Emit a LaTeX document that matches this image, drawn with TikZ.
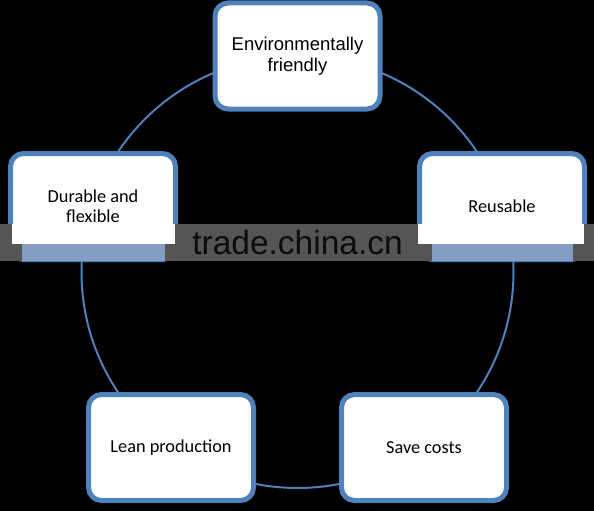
\documentclass[tikz,border=0pt]{standalone}
\usepackage{fontspec}
\setmainfont{Carlito}
\newfontfamily\arialfont{Liberation Sans}
\definecolor{ringblue}{RGB}{79,129,189}
\definecolor{bandgray}{RGB}{85,85,85}
\definecolor{marktext}{RGB}{12,12,12}
\definecolor{glassblue}{RGB}{132,158,195}
\begin{document}
\begin{tikzpicture}[x=1pt,y=-1pt,
  boxnode/.style={draw=ringblue, line width=5pt, fill=white, rounded corners=13pt,
    minimum width=165pt, minimum height=106pt, align=center, font=\fontsize{18.3}{20}\selectfont, inner sep=0pt},
  ring/.style={draw=ringblue, line width=2pt}]
\fill[black] (0,0) rectangle (594,511);
\useasboundingbox (0,0) rectangle (594,511);
\coordinate (c) at (297.5,272);
\draw[ring] (c) circle[radius=216pt];
\node[boxnode, font=\arialfont\fontsize{18.5}{20.5}\selectfont] (env) at (297.5,56) {Environmentally\\friendly};
\node[boxnode] (reuse) at (502,206.5) {Reusable};
\node[boxnode] (durable) at (93,206.5) {Durable and\\flexible};
\node[boxnode] (lean) at (171,447.5) {Lean production};
\node[boxnode] (save) at (424,447.5) {Save costs};
% watermark band
\fill[bandgray] (0,224) rectangle (594,261);
\fill[white] (12,224) rectangle (175,244);
\fill[glassblue] (22,244) rectangle (165,261);
\fill[white] (418,224) rectangle (584,244);
\fill[glassblue] (432,244) rectangle (573,261);
\node[anchor=base, text=marktext, font=\arialfont\fontsize{33.5}{36}\selectfont, inner sep=0pt] (mark) at (297.5,254) {trade.china.cn};
\end{tikzpicture}
\end{document}
